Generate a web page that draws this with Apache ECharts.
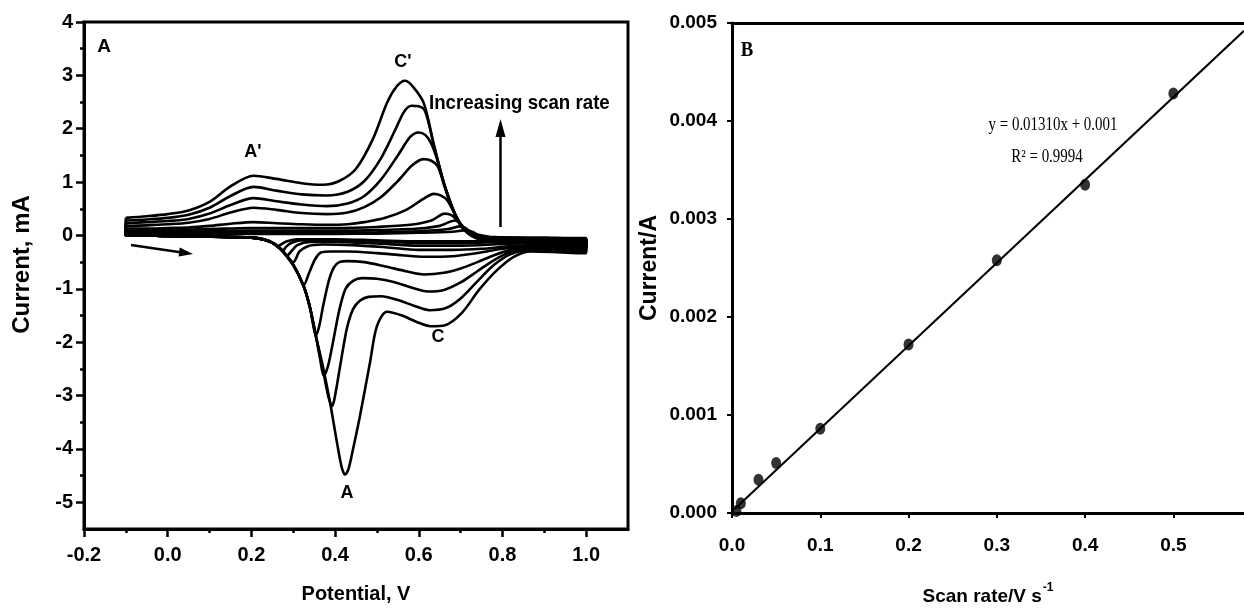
<!DOCTYPE html>
<html>
<head>
<meta charset="utf-8">
<script src="https://cdn.jsdelivr.net/npm/echarts@6/dist/echarts.min.js"></script>
<style>
html,body{margin:0;padding:0;background:#fff;}
#chart{width:1244px;height:611px;}
</style>
</head>
<body>
<div id="chart"></div>
<script>
// ---------- Panel A: cyclic voltammograms (Potential V, Current mA) ----------
// one closed loop per scan rate: forward branch -0.1 -> 1.0 V, then reverse branch 1.0 -> -0.1 V
const cvRate0005 = [[-0.1,0.02],[0,0.025],[0.1,0.03],[0.2,0.03],[0.3,0.03],[0.4,0.03],[0.5,0.035],[0.6,0.05],[0.68,0.07],[0.715,0.1],[0.728,0.07],[0.74,0.02],[0.78,-0.03],[0.9,-0.04],[0.98,-0.05],[1.0,-0.05],
  [1.0,-0.1],[0.98,-0.1],[0.9,-0.09],[0.8,-0.1],[0.7,-0.11],[0.6,-0.11],[0.5,-0.09],[0.4,-0.07],[0.31,-0.07],[0.285,-0.11],[0.27,-0.17],[0.265,-0.2],[0.255,-0.16],[0.24,-0.1],[0.22,-0.06],[0.2,-0.04],[0.1,-0.02],[0,-0.01],[-0.08,0.0],[-0.1,0.0],[-0.1,0.02]];
const cvRate001 = [[-0.1,0.04],[0,0.045],[0.1,0.05],[0.2,0.055],[0.3,0.055],[0.4,0.055],[0.5,0.06],[0.6,0.08],[0.67,0.12],[0.7,0.17],[0.712,0.14],[0.725,0.05],[0.76,-0.03],[0.85,-0.05],[0.98,-0.06],[1.0,-0.06],
  [1.0,-0.12],[0.98,-0.12],[0.9,-0.11],[0.8,-0.12],[0.7,-0.14],[0.6,-0.14],[0.5,-0.11],[0.4,-0.09],[0.32,-0.09],[0.295,-0.14],[0.282,-0.22],[0.275,-0.28],[0.265,-0.22],[0.245,-0.12],[0.22,-0.06],[0.2,-0.04],[0.1,-0.02],[0,-0.01],[-0.08,0.0],[-0.1,0.0],[-0.1,0.04]];
const cvRate003 = [[-0.1,0.06],[0,0.07],[0.1,0.08],[0.2,0.09],[0.3,0.09],[0.4,0.09],[0.5,0.1],[0.6,0.13],[0.65,0.18],[0.686,0.28],[0.7,0.22],[0.715,0.08],[0.75,-0.03],[0.8,-0.05],[0.9,-0.06],[0.98,-0.07],[1.0,-0.07],
  [1.0,-0.15],[0.98,-0.15],[0.9,-0.14],[0.8,-0.16],[0.7,-0.19],[0.6,-0.19],[0.5,-0.15],[0.4,-0.12],[0.34,-0.12],[0.31,-0.18],[0.295,-0.3],[0.285,-0.38],[0.275,-0.3],[0.255,-0.16],[0.23,-0.07],[0.2,-0.04],[0.1,-0.02],[0,-0.01],[-0.08,0.0],[-0.1,0.0],[-0.1,0.06]];
const cvRate005 = [[-0.1,0.09],[0,0.1],[0.1,0.12],[0.2,0.14],[0.3,0.14],[0.4,0.14],[0.5,0.16],[0.58,0.2],[0.63,0.28],[0.662,0.41],[0.678,0.38],[0.69,0.3],[0.71,0.12],[0.745,-0.03],[0.8,-0.06],[0.9,-0.07],[0.98,-0.08],[1.0,-0.08],
  [1.0,-0.18],[0.98,-0.18],[0.9,-0.17],[0.82,-0.2],[0.75,-0.25],[0.68,-0.27],[0.6,-0.27],[0.52,-0.22],[0.44,-0.18],[0.37,-0.17],[0.335,-0.2],[0.315,-0.3],[0.3,-0.5],[0.29,-0.45],[0.275,-0.3],[0.25,-0.14],[0.22,-0.06],[0.2,-0.04],[0.1,-0.02],[0,-0.01],[-0.08,0.0],[-0.1,0.0],[-0.1,0.09]];
const cvRate01 = [[-0.1,0.13],[-0.05,0.13],[0,0.14],[0.05,0.15],[0.1,0.18],[0.15,0.22],[0.205,0.25],[0.26,0.23],[0.32,0.21],[0.38,0.2],[0.43,0.21],[0.47,0.25],[0.52,0.33],[0.57,0.48],[0.61,0.68],[0.636,0.78],[0.652,0.75],[0.668,0.66],[0.685,0.42],[0.71,0.11],[0.745,-0.04],[0.8,-0.07],[0.9,-0.08],[0.98,-0.09],[1.0,-0.09],
  [1.0,-0.2],[0.98,-0.2],[0.92,-0.19],[0.86,-0.2],[0.8,-0.25],[0.74,-0.33],[0.68,-0.39],[0.612,-0.4],[0.56,-0.37],[0.5,-0.33],[0.43,-0.3],[0.39,-0.3],[0.366,-0.32],[0.352,-0.45],[0.338,-0.7],[0.325,-0.93],[0.315,-0.78],[0.3,-0.55],[0.27,-0.25],[0.24,-0.1],[0.2,-0.04],[0.1,-0.02],[0,-0.01],[-0.08,0.0],[-0.1,0.0],[-0.1,0.13]];
const cvRate02 = [[-0.1,0.18],[-0.05,0.19],[0,0.21],[0.05,0.24],[0.1,0.31],[0.15,0.43],[0.205,0.52],[0.26,0.48],[0.32,0.42],[0.38,0.4],[0.43,0.43],[0.47,0.53],[0.51,0.72],[0.55,1.02],[0.585,1.32],[0.612,1.43],[0.63,1.4],[0.645,1.3],[0.662,0.93],[0.686,0.41],[0.71,0.1],[0.745,-0.05],[0.8,-0.08],[0.9,-0.09],[0.98,-0.1],[1.0,-0.1],
  [1.0,-0.23],[0.98,-0.23],[0.92,-0.22],[0.86,-0.22],[0.82,-0.27],[0.78,-0.37],[0.74,-0.5],[0.7,-0.62],[0.66,-0.7],[0.612,-0.73],[0.57,-0.67],[0.52,-0.58],[0.47,-0.5],[0.43,-0.48],[0.41,-0.5],[0.397,-0.6],[0.385,-0.85],[0.372,-1.3],[0.362,-1.7],[0.354,-1.88],[0.347,-1.65],[0.34,-1.35],[0.325,-0.95],[0.3,-0.55],[0.27,-0.25],[0.24,-0.1],[0.2,-0.04],[0.1,-0.02],[0,-0.01],[-0.08,0.0],[-0.1,0.0],[-0.1,0.18]];
const cvRate03 = [[-0.1,0.23],[-0.05,0.25],[0,0.27],[0.05,0.31],[0.1,0.41],[0.15,0.57],[0.205,0.7],[0.26,0.64],[0.32,0.58],[0.38,0.55],[0.43,0.6],[0.47,0.74],[0.51,1.05],[0.55,1.5],[0.58,1.85],[0.6,1.93],[0.616,1.88],[0.63,1.72],[0.645,1.4],[0.662,0.93],[0.686,0.41],[0.71,0.1],[0.745,-0.05],[0.8,-0.09],[0.9,-0.1],[0.98,-0.11],[1.0,-0.11],
  [1.0,-0.26],[0.98,-0.26],[0.92,-0.25],[0.86,-0.25],[0.82,-0.31],[0.78,-0.46],[0.74,-0.67],[0.7,-0.88],[0.66,-1.02],[0.622,-1.05],[0.58,-0.97],[0.54,-0.87],[0.5,-0.81],[0.465,-0.8],[0.443,-0.85],[0.425,-1.0],[0.41,-1.4],[0.395,-2.0],[0.383,-2.45],[0.373,-2.63],[0.364,-2.3],[0.354,-1.88],[0.34,-1.35],[0.325,-0.95],[0.3,-0.55],[0.27,-0.25],[0.24,-0.1],[0.2,-0.04],[0.1,-0.02],[0,-0.01],[-0.08,0.0],[-0.1,0.0],[-0.1,0.23]];
const cvRate04 = [[-0.1,0.28],[-0.05,0.3],[0,0.33],[0.05,0.39],[0.1,0.52],[0.15,0.74],[0.205,0.91],[0.26,0.84],[0.32,0.77],[0.38,0.75],[0.43,0.82],[0.47,1.02],[0.51,1.45],[0.545,2.0],[0.565,2.32],[0.583,2.43],[0.6,2.42],[0.615,2.33],[0.636,1.7],[0.662,0.93],[0.686,0.41],[0.71,0.1],[0.745,-0.06],[0.8,-0.1],[0.9,-0.11],[0.98,-0.12],[1.0,-0.12],
  [1.0,-0.29],[0.98,-0.29],[0.92,-0.28],[0.86,-0.28],[0.82,-0.35],[0.78,-0.55],[0.74,-0.86],[0.7,-1.18],[0.665,-1.36],[0.625,-1.4],[0.59,-1.32],[0.55,-1.21],[0.51,-1.14],[0.48,-1.15],[0.46,-1.22],[0.443,-1.38],[0.428,-1.75],[0.412,-2.45],[0.4,-3.0],[0.393,-3.2],[0.385,-3.05],[0.373,-2.6],[0.364,-2.25],[0.354,-1.88],[0.34,-1.35],[0.325,-0.95],[0.3,-0.55],[0.27,-0.25],[0.24,-0.1],[0.2,-0.04],[0.1,-0.02],[0,-0.01],[-0.08,0.0],[-0.1,0.0],[-0.1,0.28]];
const cvRate05 = [[-0.1,0.33],[-0.05,0.36],[0,0.4],[0.05,0.47],[0.1,0.63],[0.15,0.92],[0.205,1.12],[0.26,1.06],[0.32,0.98],[0.37,0.95],[0.41,1.02],[0.45,1.25],[0.49,1.8],[0.525,2.5],[0.548,2.8],[0.567,2.9],[0.585,2.8],[0.612,2.48],[0.636,1.7],[0.661,0.93],[0.686,0.41],[0.71,0.09],[0.743,-0.07],[0.784,-0.12],[0.9,-0.12],[0.98,-0.13],[1.0,-0.13],
  [1.0,-0.33],[0.98,-0.33],[0.92,-0.31],[0.868,-0.3],[0.827,-0.4],[0.787,-0.65],[0.744,-1.02],[0.703,-1.45],[0.663,-1.68],[0.628,-1.7],[0.595,-1.62],[0.56,-1.5],[0.524,-1.43],[0.5,-1.7],[0.483,-2.4],[0.459,-3.4],[0.443,-4.0],[0.432,-4.38],[0.424,-4.48],[0.416,-4.35],[0.405,-3.9],[0.388,-3.13],[0.371,-2.46],[0.354,-1.88],[0.34,-1.35],[0.325,-0.95],[0.3,-0.55],[0.27,-0.25],[0.24,-0.1],[0.2,-0.04],[0.1,-0.02],[0,-0.01],[-0.08,0.0],[-0.1,0.0],[-0.1,0.33]];
const cvLoops = [cvRate0005, cvRate001, cvRate003, cvRate005, cvRate01, cvRate02, cvRate03, cvRate04, cvRate05];

const potentialTicks = [-0.2, 0.0, 0.2, 0.4, 0.6, 0.8, 1.0];
const currentMajorTicks = [-5, -4, -3, -2, -1, 0, 1, 2, 3, 4];
const currentMinorTicks = [-4.5, -3.5, -2.5, -1.5, -0.5, 0.5, 1.5, 2.5, 3.5];

// ---------- Panel B: peak current vs scan rate ----------
const scanRates = [0.005, 0.01, 0.03, 0.05, 0.1, 0.2, 0.3, 0.4, 0.5];
const peakCurrents = [0.00002, 0.0001, 0.00034, 0.00051, 0.00086, 0.00172, 0.00258, 0.00335, 0.00428];
const fitLineX = [0.003, 0.58];
const fitLineY = [0.00004, 0.00492];
const scanRateTicks = [0.0, 0.1, 0.2, 0.3, 0.4, 0.5];
const currentATicks = [0.000, 0.001, 0.002, 0.003, 0.004, 0.005];

const SANS = "'Liberation Sans',Arial,sans-serif";
const SERIF = "'Liberation Serif','Times New Roman',serif";

const chart = echarts.init(document.getElementById('chart'));

const cvSeries = cvLoops.map((loop, i) => ({
  type: 'line', name: 'scan ' + scanRates[i], xAxisIndex: 0, yAxisIndex: 0,
  data: loop, showSymbol: false, symbol: 'none', smooth: 0.3,
  lineStyle: {color: '#000', width: 2.6}, silent: true
}));

function label(text, x, y, font, align, sx) {
  return {type: 'text', x: x, y: y, scaleX: sx || 1, z: 100,
    style: {text: text, fill: '#000', font: font, align: align || 'center', verticalAlign: 'middle',
            textAlign: align || 'center', textVerticalAlign: 'middle'}};
}

const option = {
  animation: false,
  backgroundColor: '#ffffff',
  grid: [
    {left: 84, top: 22, width: 544, height: 507, show: true, borderColor: '#000', borderWidth: 3, backgroundColor: 'rgba(0,0,0,0)'},
    {left: 732, top: 23, right: 0, height: 495, show: false},
    {left: 84, top: 22, width: 544, height: 507, show: false}
  ],
  xAxis: [
    {gridIndex: 0, type: 'value', min: -0.2, max: 1.1, interval: 0.2, position: 'bottom',
     axisLine: {onZero: false, lineStyle: {color: '#000', width: 3}},
     axisTick: {customValues: potentialTicks, length: 8, lineStyle: {color: '#000', width: 2.5}},
     minorTick: {show: true, splitNumber: 2, length: 4, lineStyle: {color: '#000', width: 2.5}},
     axisLabel: {customValues: potentialTicks, formatter: v => v.toFixed(1), margin: 16, color: '#000', fontSize: 20, fontWeight: 'bold', fontFamily: SANS},
     splitLine: {show: false}, minorSplitLine: {show: false},
     name: 'Potential, V', nameLocation: 'middle', nameGap: 55,
     nameTextStyle: {color: '#000', fontSize: 20, fontWeight: 'bold', fontFamily: SANS}},
    {gridIndex: 1, type: 'value', min: 0, max: 0.58, interval: 0.1, position: 'bottom',
     axisLine: {onZero: false, lineStyle: {color: '#000', width: 3}},
     axisTick: {customValues: scanRateTicks, length: 5, lineStyle: {color: '#000', width: 2}},
     axisLabel: {customValues: scanRateTicks, formatter: v => v.toFixed(1), margin: 23, color: '#000', fontSize: 19, fontWeight: 'bold', fontFamily: SANS},
     splitLine: {show: false},
     name: '{a|Scan rate/V s}{b|-1}', nameLocation: 'middle', nameGap: 69,
     nameTextStyle: {color: '#000', fontSize: 19, fontWeight: 'bold', fontFamily: SANS,
       rich: {a: {fontSize: 19, fontWeight: 'bold', fontFamily: SANS, color: '#000', lineHeight: 24, verticalAlign: 'bottom'},
              b: {fontSize: 12, fontWeight: 'bold', fontFamily: SANS, color: '#000', lineHeight: 24, verticalAlign: 'top', padding: [0, 0, 12, 1]}}}},
    {gridIndex: 1, type: 'value', min: 0, max: 1, position: 'top',
     axisLine: {onZero: false, lineStyle: {color: '#000', width: 3}},
     axisTick: {show: false}, axisLabel: {show: false}, splitLine: {show: false}},
    {gridIndex: 2, type: 'value', min: 0, max: 1, show: false}
  ],
  yAxis: [
    {gridIndex: 0, type: 'value', min: -5.5, max: 4, interval: 0.5, position: 'left',
     axisLine: {onZero: false, lineStyle: {color: '#000', width: 3}},
     axisTick: {customValues: currentMajorTicks, length: 8, lineStyle: {color: '#000', width: 2.5}},
     axisLabel: {customValues: currentMajorTicks, formatter: v => String(v), margin: 11, color: '#000', fontSize: 20, fontWeight: 'bold', fontFamily: SANS},
     splitLine: {show: false},
     name: 'Current, mA', nameLocation: 'middle', nameGap: 50,
     nameTextStyle: {color: '#000', fontSize: 24, fontWeight: 'bold', fontFamily: SANS, padding: [0, 0, 0, 22]}},
    {gridIndex: 1, type: 'value', min: 0, max: 0.005, interval: 0.001, position: 'left',
     axisLine: {onZero: false, lineStyle: {color: '#000', width: 3}},
     axisTick: {customValues: currentATicks, length: 5, lineStyle: {color: '#000', width: 2}},
     axisLabel: {customValues: currentATicks, formatter: v => v.toFixed(3), margin: 15, color: '#000', fontSize: 19, fontWeight: 'bold', fontFamily: SANS},
     splitLine: {show: false},
     name: 'Current/A', nameLocation: 'middle', nameGap: 71,
     nameTextStyle: {color: '#000', fontSize: 23, fontWeight: 'bold', fontFamily: SANS}},
    {gridIndex: 2, type: 'value', min: -5.5, max: 4, position: 'left',
     axisLine: {show: false},
     axisTick: {show: true, customValues: currentMinorTicks, length: 4, lineStyle: {color: '#000', width: 2.5}},
     axisLabel: {show: false}, splitLine: {show: false}}
  ],
  series: cvSeries.concat([
    {type: 'line', name: 'linear fit', xAxisIndex: 1, yAxisIndex: 1,
     data: fitLineX.map((x, i) => [x, fitLineY[i]]), showSymbol: false, symbol: 'none',
     lineStyle: {color: '#000', width: 2}, silent: true, z: 3},
    {type: 'scatter', name: 'peak current', xAxisIndex: 1, yAxisIndex: 1,
     data: scanRates.map((x, i) => [x, peakCurrents[i]]), symbol: 'circle', symbolSize: [10, 12],
     itemStyle: {color: '#000'}, silent: true, z: 4}
  ]),
  graphic: [
    label('A', 104, 47, 'bold 19px ' + SANS),
    label("A'", 253, 152, 'bold 18px ' + SANS),
    label("C'", 403, 62, 'bold 18px ' + SANS),
    label('A', 347, 493, 'bold 18px ' + SANS),
    label('C', 438, 337, 'bold 18px ' + SANS),
    label('Increasing scan rate', 429, 103, 'bold 21px ' + SANS, 'left', 0.89),
    {type: 'line', shape: {x1: 500.5, y1: 227, x2: 500.5, y2: 132}, style: {stroke: '#000', lineWidth: 2.5}},
    {type: 'polygon', shape: {points: [[500.5, 119], [495.5, 137], [505.5, 137]]}, style: {fill: '#000'}},
    {type: 'line', shape: {x1: 131, y1: 245, x2: 182, y2: 252.4}, style: {stroke: '#000', lineWidth: 2.5}},
    {type: 'polygon', shape: {points: [[193, 254], [178.6, 256.5], [179.7, 247.5]]}, style: {fill: '#000'}},
    label('B', 747, 50, 'bold 22px ' + SERIF, 'center', 0.85),
    label('y = 0.01310x + 0.001', 1053, 125, '18px ' + SERIF, 'center', 0.83),
    label('R\u00B2 = 0.9994', 1047, 157, '18px ' + SERIF, 'center', 0.83)
  ]
};
chart.setOption(option);
</script>
</body>
</html>
